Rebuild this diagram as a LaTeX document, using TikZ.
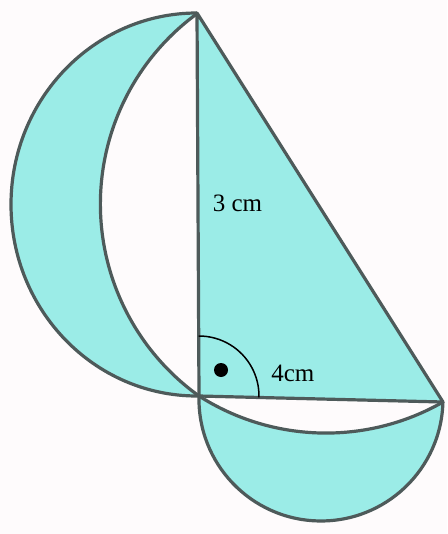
\documentclass[tikz,border=0pt]{standalone}
\usepackage{fontspec}
\setmainfont{Liberation Serif}
\usepackage{xcolor}
\usetikzlibrary{calc}
\definecolor{luneCyan}{HTML}{9BECE7}
\definecolor{edgeGray}{HTML}{4E5A5A}
\definecolor{paperWhite}{HTML}{FEFBFC}

\begin{document}
\begin{tikzpicture}[
  x=1pt,
  y=-1pt,
  font=\fontsize{25}{30}\selectfont,
  edge/.style={draw=edgeGray,line width=3.2pt,line join=round},
  lune/.style={fill=luneCyan},
  lentext/.style={inner sep=0pt,anchor=base},
  rightmark/.style={draw=black,line width=1.5pt},
  dot/.style={circle,fill=black,inner sep=0pt,minimum size=14pt}
]

% Canvas.
\fill[paperWhite] (0,0) rectangle (447,534);
\useasboundingbox (0,0) rectangle (447,534);

% Corner points.
\coordinate (A) at (197,13);
\coordinate (B) at (199,396);
\coordinate (C) at (443,402);

% Filled regions.
\fill[lune] (A) arc[start angle=270,end angle=90,x radius=186,y radius=191.5] -- (B)
  arc[start angle=125.6,end angle=234,radius=236] -- cycle;
\fill[lune] (A) -- (B) -- (C) -- cycle;
\fill[lune] (B) arc[start angle=181.4,end angle=1.4,radius=122] -- (C)
  arc[start angle=60.27,end angle=122.55,radius=236] -- cycle;

% Outlines.
\draw[edge] (A) arc[start angle=270,end angle=90,x radius=186,y radius=191.5] -- (B);
\draw[edge] (B) arc[start angle=125.6,end angle=234,radius=236];
\draw[edge] (B) arc[start angle=181.4,end angle=1.4,radius=122];
\draw[edge] (C) arc[start angle=60.27,end angle=122.55,radius=236];
\draw[edge] (A) -- (B) -- (C) -- cycle;

% Right angle at B.
\draw[rightmark] ($(B)+(1.4:60)$) arc[start angle=1.4,end angle=-90.3,radius=60];
\node[dot] (mark) at (221,370) {};

% Side lengths.
\node[lentext] (legAB) at (237.5,211.7) {3 cm};
\node[lentext] (legBC) at (292.8,381) {4cm};

\end{tikzpicture}
\end{document}
